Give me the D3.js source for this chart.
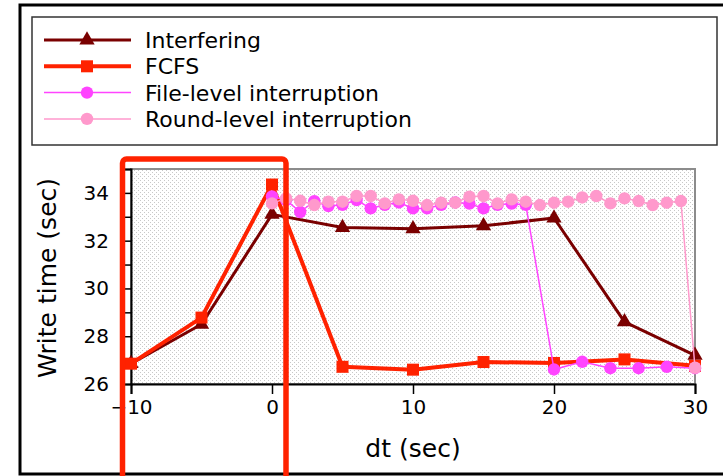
<!DOCTYPE html>
<html>
<head>
<meta charset="utf-8">
<script src="https://cdn.jsdelivr.net/npm/d3@7/dist/d3.min.js"></script>
<style>
  html, body { margin: 0; padding: 0; background: #fff; }
  svg { display: block; font-family: "DejaVu Sans", sans-serif; }
</style>
</head>
<body>
<svg id="chart" width="723" height="476"></svg>
<script>
// ---- data ----
const interferingX = [-10, -5, 0, 5, 10, 15, 20, 25, 30];
const interferingY = [26.85, 28.5, 33.1, 32.55, 32.5, 32.62, 32.95, 28.6, 27.2];

const fcfsX = [-10, -5, 0, 5, 10, 15, 20, 25, 30];
const fcfsY = [26.85, 28.78, 34.35, 26.72, 26.6, 26.92, 26.88, 27.03, 26.76];

const fileX = [0, 1, 2, 3, 4, 5, 6, 7, 8, 9, 10, 11, 12, 13, 14, 15, 16, 17, 18, 20, 22, 24, 26, 28, 30];
const fileY = [33.85, 33.7, 33.2, 33.65, 33.45, 33.5, 33.7, 33.35, 33.5, 33.6, 33.35, 33.35, 33.5, 33.6, 33.55, 33.35, 33.5, 33.55, 33.5,
               26.61, 26.93, 26.66, 26.66, 26.72, 26.66];

const roundX = d3.range(0, 31);
const roundY = [33.56, 33.77, 33.67, 33.49, 33.63, 33.63, 33.87, 33.87, 33.56, 33.73, 33.67, 33.49, 33.59, 33.59, 33.84, 33.87,
                33.56, 33.73, 33.63, 33.49, 33.59, 33.63, 33.81, 33.87, 33.56, 33.77, 33.66, 33.49, 33.59, 33.66, 26.68];

const seriesNames = ["Interfering", "FCFS", "File-level interruption", "Round-level interruption"];
const xTicks = [-10, 0, 10, 20, 30];
const yTicks = [26, 27, 28, 29, 30, 31, 32, 33, 34, 35];
const yLabels = [26, 28, 30, 32, 34];

// ---- layout ----
const svg = d3.select("#chart");
const plot = { left: 131, right: 695, top: 169, bottom: 384 };

const x = d3.scaleLinear().domain([-10, 30]).range([plot.left, plot.right]);
const y = d3.scaleLinear().domain([26, 35]).range([plot.bottom, plot.top]);

const zip = (xs, ys) => xs.map((v, i) => ({ x: v, y: ys[i] }));

const series = [
  { name: seriesNames[0], data: zip(interferingX, interferingY), color: "#7a0000", width: 3, marker: "triangle", size: 15 },
  { name: seriesNames[1], data: zip(fcfsX, fcfsY), color: "#ff2200", width: 4, marker: "square", size: 12 },
  { name: seriesNames[2], data: zip(fileX, fileY), color: "#ff44ff", width: 1.5, marker: "circle", size: 6.2 },
  { name: seriesNames[3], data: zip(roundX, roundY), color: "#ff99cc", width: 1.5, marker: "circle", size: 6.2 }
];

// outer frame
svg.append("rect")
  .attr("x", 20).attr("y", 5).attr("width", 720).attr("height", 469)
  .attr("fill", "#fff").attr("stroke", "#000").attr("stroke-width", 3);

// dotted fill for the plotting area
const defs = svg.append("defs");
const pat = defs.append("pattern")
  .attr("id", "dots").attr("patternUnits", "userSpaceOnUse")
  .attr("width", 4).attr("height", 4);
pat.append("rect").attr("width", 4).attr("height", 4).attr("fill", "#fff");
pat.append("rect").attr("x", 0).attr("y", 0).attr("width", 1).attr("height", 1).attr("fill", "#c8c8c8");
pat.append("rect").attr("x", 2).attr("y", 2).attr("width", 1).attr("height", 1).attr("fill", "#c8c8c8");

svg.append("rect")
  .attr("x", plot.left).attr("y", plot.top)
  .attr("width", plot.right - plot.left).attr("height", plot.bottom - plot.top)
  .attr("fill", "url(#dots)")
  .attr("stroke", "#8c8c8c").attr("stroke-width", 2);

// axes
const yAxis = svg.append("g")
  .attr("transform", `translate(${plot.left},0)`)
  .call(d3.axisLeft(y).tickValues(yTicks).tickSize(8).tickPadding(14)
    .tickFormat(d => yLabels.includes(d) ? d : ""));
const xAxis = svg.append("g")
  .attr("transform", `translate(0,${plot.bottom})`)
  .call(d3.axisBottom(x).tickValues(xTicks).tickSize(10).tickPadding(6)
    .tickFormat(d3.format("d")));

[yAxis, xAxis].forEach(g => {
  g.select(".domain").attr("stroke", "#000").attr("stroke-width", 2);
  g.selectAll(".tick line").attr("stroke", "#000").attr("stroke-width", 1.5);
  g.selectAll(".tick text").attr("fill", "#000")
    .style("font-family", "DejaVu Sans").style("font-size", "20px");
});

// axis titles
svg.append("text")
  .attr("x", 413).attr("y", 457)
  .attr("text-anchor", "middle")
  .style("font-size", "25px")
  .text("dt (sec)");
svg.append("text")
  .attr("transform", "translate(56,278) rotate(-90)")
  .attr("text-anchor", "middle")
  .style("font-size", "25px")
  .text("Write time (sec)");

// markers
function drawMarker(sel, type, size, color) {
  if (type === "triangle") {
    sel.append("path")
      .attr("d", d3.symbol(d3.symbolTriangle, size * size * 0.45)())
      .attr("fill", color);
  } else if (type === "square") {
    sel.append("rect")
      .attr("x", -size / 2).attr("y", -size / 2)
      .attr("width", size).attr("height", size)
      .attr("fill", color);
  } else {
    sel.append("circle").attr("r", size).attr("fill", color);
  }
}

const line = d3.line().x(d => x(d.x)).y(d => y(d.y));

series.forEach(s => {
  const g = svg.append("g");
  g.append("path")
    .datum(s.data)
    .attr("d", line)
    .attr("fill", "none")
    .attr("stroke", s.color)
    .attr("stroke-width", s.width)
    .attr("stroke-linejoin", "round");
  g.selectAll("g.pt")
    .data(s.data)
    .join("g")
    .attr("class", "pt")
    .attr("transform", d => `translate(${x(d.x)},${y(d.y)})`)
    .each(function () { drawMarker(d3.select(this), s.marker, s.size, s.color); });
});

// legend
const legend = svg.append("g");
legend.append("rect")
  .attr("x", 32).attr("y", 17).attr("width", 685).attr("height", 128)
  .attr("fill", "#fff").attr("stroke", "#333").attr("stroke-width", 1.5);

series.forEach((s, i) => {
  const cy = 40 + i * 26.3;
  const row = legend.append("g").attr("transform", `translate(0,${cy})`);
  row.append("line")
    .attr("x1", 44).attr("x2", 131)
    .attr("stroke", s.color).attr("stroke-width", s.width);
  const m = row.append("g").attr("transform", "translate(87,0)");
  drawMarker(m, s.marker, s.size, s.color);
  row.append("text")
    .attr("x", 145).attr("y", 8)
    .style("font-size", "22px")
    .text(s.name);
});

// highlight box around the interval before dt = 0
svg.append("rect")
  .attr("x", 122.5).attr("y", 159)
  .attr("width", 163.5).attr("height", 400)
  .attr("rx", 4)
  .attr("fill", "none")
  .attr("stroke", "#ff2200")
  .attr("stroke-width", 5.5);
</script>
</body>
</html>
